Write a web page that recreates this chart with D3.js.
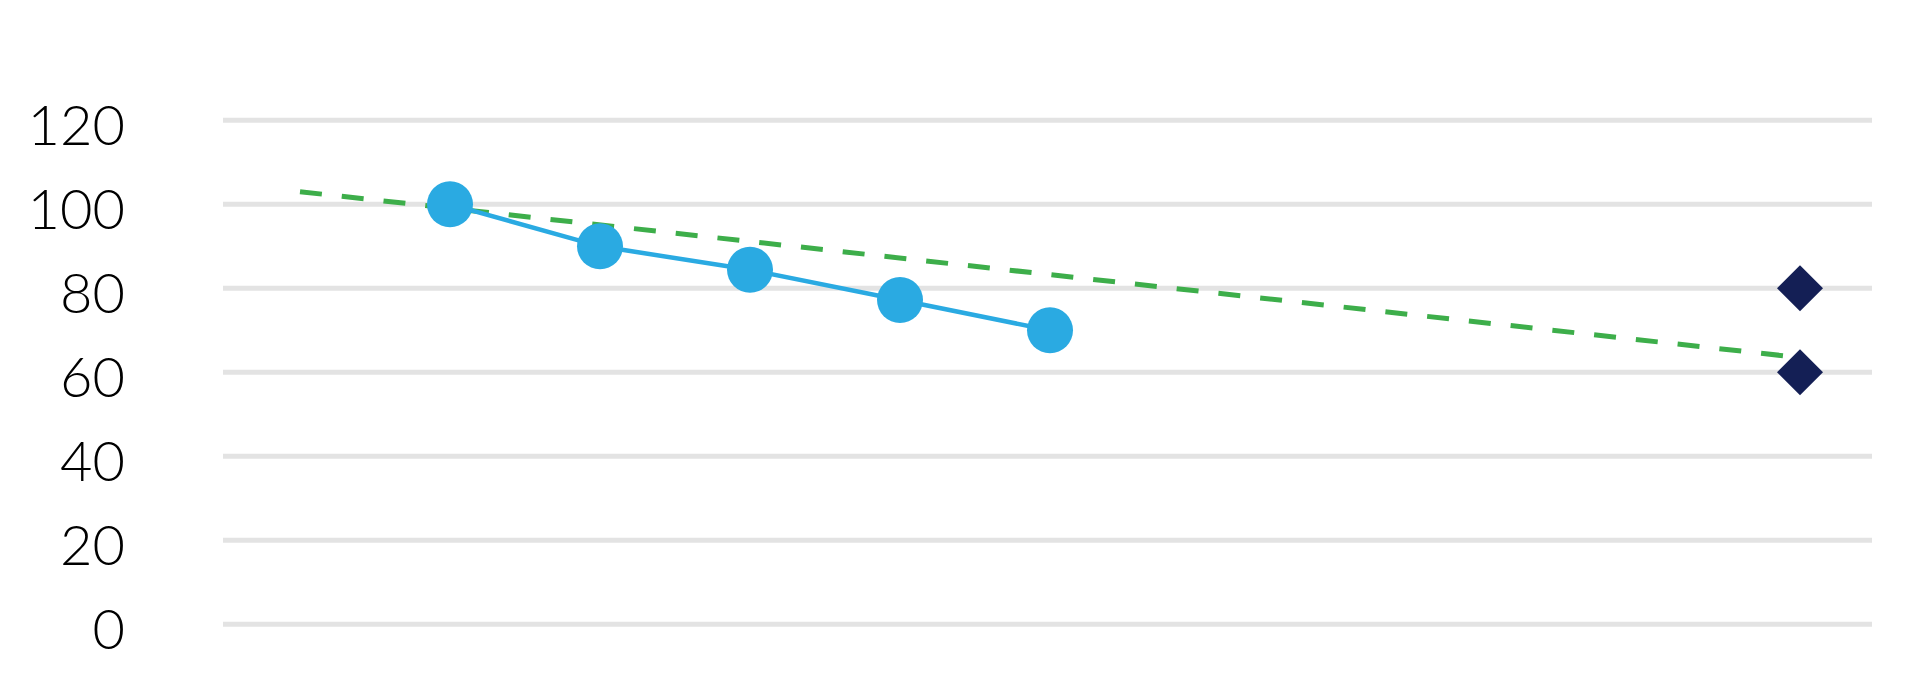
<!DOCTYPE html>
<html>
<head>
<meta charset="utf-8">
<script src="https://cdn.jsdelivr.net/npm/d3@7"></script>
<style>
  html, body { margin: 0; padding: 0; background: #ffffff; }
  svg { display: block; }
</style>
</head>
<body>
<svg id="chart" width="1932" height="678"></svg>
<script>
// ---- data ----
const categories = ["1", "2", "3", "4", "5", "6", "7", "8", "9", "10", "11"];
const actualValues = [null, 100, 90, 84.4, 77.2, 70, null, null, null, null, null];
const targetUpper = [null, null, null, null, null, null, null, null, null, null, 80];
const targetLower = [null, null, null, null, null, null, null, null, null, null, 60];
const trendValues = [103, null, null, null, null, null, null, null, null, null, 63.5];
const yTicks = [0, 20, 40, 60, 80, 100, 120];

// ---- layout ----
const W = 1932, H = 678;
const gridX0 = 223, gridX1 = 1872;
const svg = d3.select("#chart");
svg.append("rect").attr("width", W).attr("height", H).attr("fill", "#ffffff");

const x = d3.scalePoint().domain(categories).range([300, 1800]);
const y = d3.scaleLinear().domain([0, 120]).range([624.3, 120.3]);

// gridlines
svg.append("g").selectAll("line").data(yTicks).join("line")
  .attr("x1", gridX0).attr("x2", gridX1)
  .attr("y1", d => y(d)).attr("y2", d => y(d))
  .attr("stroke", "#e3e3e3").attr("stroke-width", 5);

// y axis labels
const yAxis = d3.axisLeft(y).tickValues(yTicks).tickSize(0).tickPadding(0);
const gAxis = svg.append("g").attr("transform", "translate(125,5.8)").call(yAxis);
gAxis.select(".domain").remove();
gAxis.selectAll("text")
  .attr("font-family", "Lato, 'DejaVu Sans', sans-serif")
  .attr("font-weight", 300)
  .attr("font-size", 56)
  .attr("fill", "#000000");

// trend (dashed green)
const trendPts = categories.map((c, i) => ({ c, v: trendValues[i] })).filter(d => d.v != null);
svg.append("path")
  .datum(trendPts)
  .attr("d", d3.line().x(d => x(d.c)).y(d => y(d.v)))
  .attr("fill", "none")
  .attr("stroke", "#3dae4a")
  .attr("stroke-width", 5)
  .attr("stroke-dasharray", "22,20");

// actual line (blue)
const actualPts = categories.map((c, i) => ({ c, v: actualValues[i] })).filter(d => d.v != null);
svg.append("path")
  .datum(actualPts)
  .attr("d", d3.line().x(d => x(d.c)).y(d => y(d.v)))
  .attr("fill", "none")
  .attr("stroke", "#2aaae2")
  .attr("stroke-width", 4.5);

svg.append("g").selectAll("circle").data(actualPts).join("circle")
  .attr("cx", d => x(d.c)).attr("cy", d => y(d.v)).attr("r", 23)
  .attr("fill", "#2aaae2");

// diamonds (navy)
const diamondPts = [];
categories.forEach((c, i) => {
  if (targetUpper[i] != null) diamondPts.push({ c, v: targetUpper[i] });
  if (targetLower[i] != null) diamondPts.push({ c, v: targetLower[i] });
});
const diamond = d3.symbol().type(d3.symbolSquare).size(1058);
svg.append("g").selectAll("path").data(diamondPts).join("path")
  .attr("d", diamond)
  .attr("transform", d => `translate(${x(d.c)},${y(d.v)}) rotate(45)`)
  .attr("fill", "#141f55");
</script>
</body>
</html>
